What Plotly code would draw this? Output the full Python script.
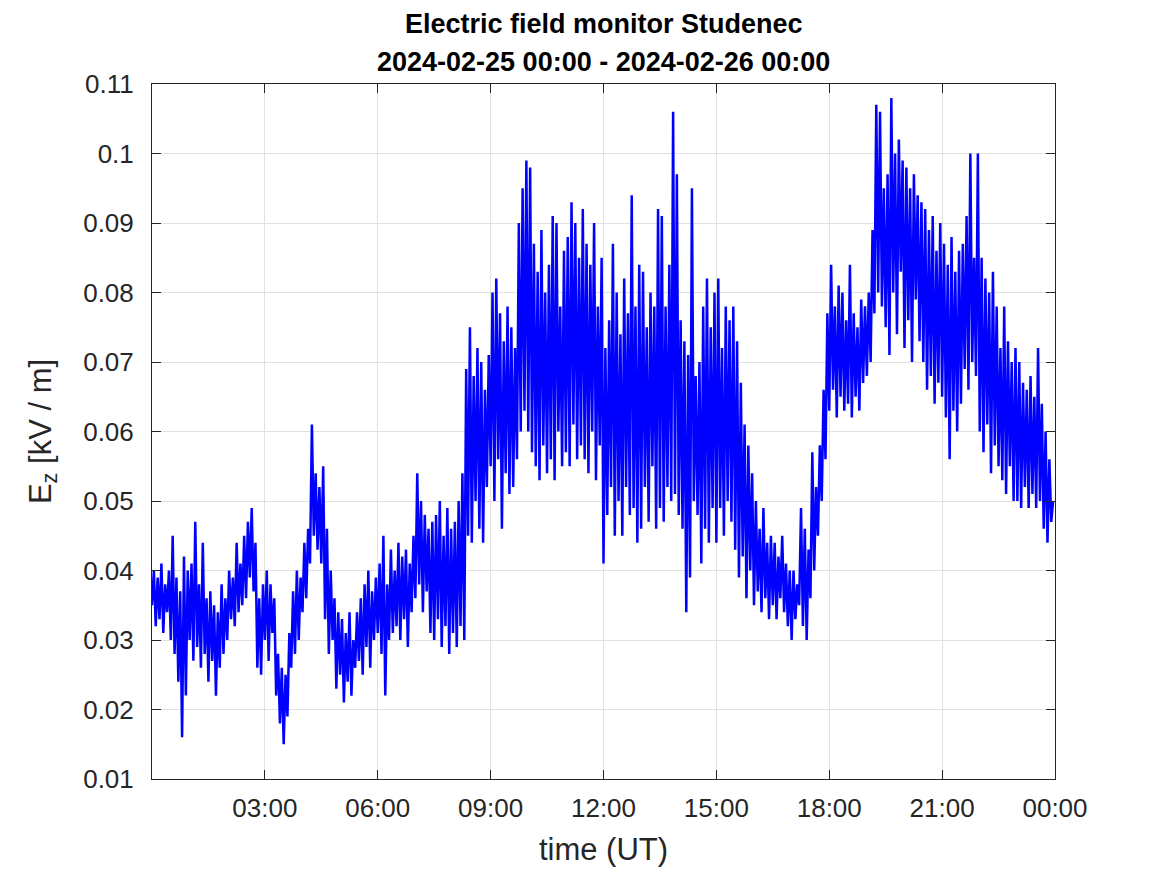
import plotly.graph_objects as go
import pandas as pd

# E_z values [kV/m], 3-minute samples, one row per half hour
ez_rows = [
    [0.035, 0.040, 0.032, 0.039, 0.033, 0.041, 0.031, 0.038, 0.034, 0.040],  # 00:00
    [0.030, 0.045, 0.028, 0.039, 0.024, 0.037, 0.016, 0.042, 0.022, 0.040],  # 00:30
    [0.030, 0.041, 0.027, 0.047, 0.029, 0.038, 0.026, 0.044, 0.028, 0.036],  # 01:00
    [0.024, 0.037, 0.027, 0.035, 0.022, 0.034, 0.026, 0.038, 0.028, 0.036],  # 01:30
    [0.030, 0.040, 0.033, 0.039, 0.032, 0.044, 0.034, 0.041, 0.035, 0.045],  # 02:00
    [0.036, 0.047, 0.039, 0.049, 0.037, 0.044, 0.026, 0.036, 0.025, 0.038],  # 02:30
    [0.030, 0.040, 0.027, 0.038, 0.031, 0.036, 0.022, 0.028, 0.018, 0.026],  # 03:00
    [0.015, 0.025, 0.019, 0.031, 0.026, 0.037, 0.028, 0.040, 0.030, 0.039],  # 03:30
    [0.034, 0.044, 0.036, 0.046, 0.041, 0.061, 0.045, 0.054, 0.043, 0.052],  # 04:00
    [0.041, 0.055, 0.033, 0.046, 0.028, 0.040, 0.030, 0.036, 0.023, 0.034],  # 04:30
    [0.025, 0.033, 0.021, 0.031, 0.024, 0.034, 0.022, 0.030, 0.026, 0.034],  # 05:00
    [0.027, 0.036, 0.025, 0.038, 0.029, 0.040, 0.026, 0.037, 0.030, 0.039],  # 05:30
    [0.031, 0.041, 0.028, 0.045, 0.022, 0.038, 0.030, 0.043, 0.031, 0.040],  # 06:00
    [0.032, 0.044, 0.030, 0.042, 0.033, 0.043, 0.029, 0.041, 0.034, 0.045],  # 06:30
    [0.036, 0.054, 0.038, 0.050, 0.034, 0.048, 0.037, 0.046, 0.031, 0.047],  # 07:00
    [0.030, 0.048, 0.033, 0.050, 0.029, 0.045, 0.032, 0.049, 0.028, 0.046],  # 07:30
    [0.031, 0.047, 0.029, 0.050, 0.032, 0.054, 0.030, 0.069, 0.045, 0.075],  # 08:00
    [0.044, 0.068, 0.050, 0.072, 0.046, 0.070, 0.044, 0.066, 0.052, 0.071],  # 08:30
    [0.055, 0.080, 0.050, 0.082, 0.056, 0.077, 0.046, 0.073, 0.054, 0.078],  # 09:00
    [0.051, 0.075, 0.052, 0.072, 0.056, 0.090, 0.060, 0.095, 0.063, 0.099],  # 09:30
    [0.060, 0.098, 0.057, 0.087, 0.055, 0.083, 0.053, 0.089, 0.058, 0.080],  # 10:00
    [0.054, 0.084, 0.056, 0.091, 0.053, 0.090, 0.060, 0.078, 0.055, 0.086],  # 10:30
    [0.057, 0.088, 0.055, 0.093, 0.061, 0.090, 0.056, 0.085, 0.058, 0.092],  # 11:00
    [0.056, 0.087, 0.054, 0.084, 0.060, 0.090, 0.053, 0.078, 0.058, 0.085],  # 11:30
    [0.041, 0.072, 0.048, 0.076, 0.052, 0.087, 0.045, 0.080, 0.050, 0.074],  # 12:00
    [0.045, 0.082, 0.052, 0.077, 0.048, 0.094, 0.049, 0.078, 0.044, 0.084],  # 12:30
    [0.046, 0.083, 0.052, 0.075, 0.047, 0.080, 0.055, 0.078, 0.046, 0.092],  # 13:00
    [0.049, 0.091, 0.047, 0.078, 0.052, 0.084, 0.050, 0.106, 0.051, 0.097],  # 13:30
    [0.048, 0.076, 0.046, 0.073, 0.034, 0.071, 0.039, 0.095, 0.050, 0.068],  # 14:00
    [0.048, 0.070, 0.041, 0.078, 0.046, 0.082, 0.044, 0.075, 0.049, 0.080],  # 14:30
    [0.044, 0.082, 0.049, 0.072, 0.045, 0.078, 0.050, 0.076, 0.047, 0.078],  # 15:00
    [0.043, 0.073, 0.039, 0.067, 0.042, 0.061, 0.036, 0.058, 0.040, 0.054],  # 15:30
    [0.035, 0.050, 0.037, 0.046, 0.034, 0.049, 0.036, 0.044, 0.033, 0.045],  # 16:00
    [0.035, 0.044, 0.033, 0.042, 0.036, 0.045, 0.034, 0.041, 0.032, 0.040],  # 16:30
    [0.030, 0.040, 0.033, 0.038, 0.035, 0.049, 0.032, 0.046, 0.030, 0.043],  # 17:00
    [0.036, 0.057, 0.040, 0.052, 0.045, 0.058, 0.050, 0.066, 0.056, 0.077],  # 17:30
    [0.063, 0.084, 0.066, 0.078, 0.062, 0.081, 0.065, 0.080, 0.063, 0.076],  # 18:00
    [0.064, 0.084, 0.062, 0.077, 0.065, 0.075, 0.063, 0.079, 0.067, 0.078],  # 18:30
    [0.068, 0.080, 0.070, 0.089, 0.077, 0.107, 0.080, 0.106, 0.078, 0.095],  # 19:00
    [0.075, 0.097, 0.071, 0.108, 0.080, 0.100, 0.074, 0.102, 0.083, 0.099],  # 19:30
    [0.072, 0.098, 0.076, 0.095, 0.070, 0.097, 0.079, 0.094, 0.073, 0.093],  # 20:00
    [0.070, 0.092, 0.066, 0.089, 0.068, 0.091, 0.064, 0.086, 0.067, 0.090],  # 20:30
    [0.065, 0.087, 0.062, 0.084, 0.056, 0.088, 0.063, 0.083, 0.060, 0.086],  # 21:00
    [0.064, 0.087, 0.069, 0.091, 0.066, 0.100, 0.070, 0.085, 0.068, 0.100],  # 21:30
    [0.060, 0.085, 0.057, 0.082, 0.061, 0.080, 0.054, 0.083, 0.058, 0.078],  # 22:00
    [0.055, 0.072, 0.053, 0.078, 0.051, 0.073, 0.055, 0.070, 0.050, 0.072],  # 22:30
    [0.050, 0.070, 0.049, 0.067, 0.052, 0.066, 0.049, 0.068, 0.051, 0.065],  # 23:00
    [0.049, 0.072, 0.050, 0.064, 0.046, 0.060, 0.044, 0.056, 0.047, 0.050],  # 23:30
]
ez = [v for row in ez_rows for v in row]
times = pd.date_range("2024-02-25 00:00", periods=len(ez), freq="3min")

x_tick_vals = ["2024-02-25 03:00", "2024-02-25 06:00", "2024-02-25 09:00", "2024-02-25 12:00",
               "2024-02-25 15:00", "2024-02-25 18:00", "2024-02-25 21:00", "2024-02-26 00:00"]
x_tick_text = ["03:00", "06:00", "09:00", "12:00", "15:00", "18:00", "21:00", "00:00"]
y_tick_vals = [0.01, 0.02, 0.03, 0.04, 0.05, 0.06, 0.07, 0.08, 0.09, 0.10, 0.11]
y_tick_text = ["0.01", "0.02", "0.03", "0.04", "0.05", "0.06", "0.07", "0.08", "0.09", "0.1", "0.11"]

FONT = "Liberation Sans, Arial, sans-serif"
TXT = "#262626"

fig = go.Figure()
fig.add_trace(go.Scatter(x=times, y=ez, mode="lines",
                         line=dict(color="#0000ff", width=2.5), showlegend=False))

axis_common = dict(showline=True, linecolor=TXT, linewidth=1, mirror="ticks",
                   ticks="inside", ticklen=9, tickcolor=TXT, tickwidth=1,
                   showgrid=True, gridcolor="#e1e1e1", gridwidth=1, zeroline=False,
                   tickfont=dict(family=FONT, size=26, color=TXT))

fig.update_xaxes(range=["2024-02-25 00:00", "2024-02-26 00:00"],
                 tickvals=x_tick_vals, ticktext=x_tick_text,
                 title=dict(text="time (UT)", font=dict(family=FONT, size=31, color=TXT), standoff=16),
                 ticklabelstandoff=6, **axis_common)
fig.update_yaxes(range=[0.01, 0.11], tickvals=y_tick_vals, ticktext=y_tick_text,
                 title=dict(text="E<sub>z</sub> [kV / m]", font=dict(family=FONT, size=31, color=TXT), standoff=22),
                 ticklabelstandoff=12, **axis_common)

# page body has an 8px margin: plot area spans page x 152..1055, y 84..779
fig.update_layout(
    width=1159, height=867,
    margin=dict(l=144, r=112, t=76, b=96, autoexpand=False),
    paper_bgcolor="white", plot_bgcolor="white",
    annotations=[
        dict(text="<b>Electric field monitor Studenec</b>", xref="paper", yref="paper",
             x=0.5, y=(779 - 24) / 695, xanchor="center", yanchor="middle", showarrow=False,
             font=dict(family=FONT, size=27, color="black")),
        dict(text="<b>2024-02-25 00:00 - 2024-02-26 00:00</b>", xref="paper", yref="paper",
             x=0.5, y=(779 - 62) / 695, xanchor="center", yanchor="middle", showarrow=False,
             font=dict(family=FONT, size=27, color="black")),
    ],
)

fig.write_html("out.html")
